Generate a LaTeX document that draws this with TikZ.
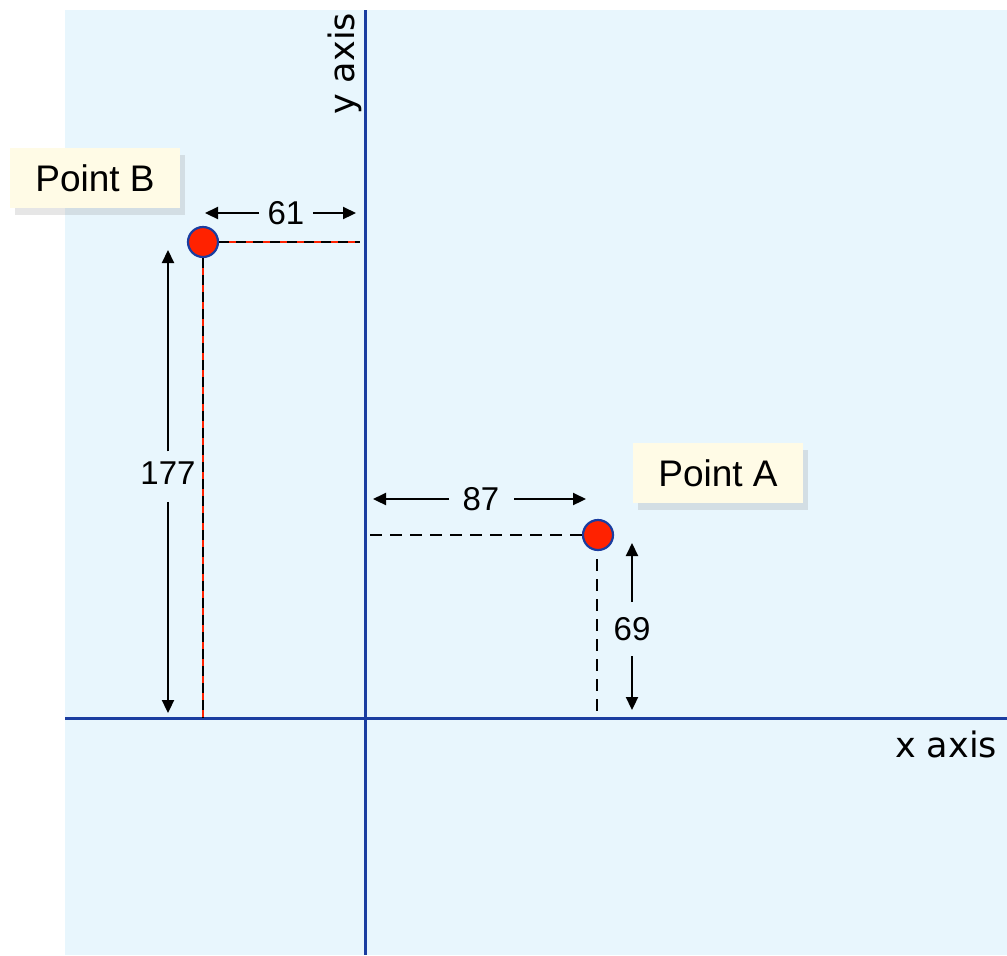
\documentclass[tikz,border=0pt]{standalone}
\usepackage{fontspec}
\setmainfont{Liberation Sans}
\newfontfamily\axisfont{DejaVu Sans}
\usepackage{tikz}
\usetikzlibrary{positioning,arrows.meta,shadows}

\definecolor{panelblue}{HTML}{E8F6FD}
\definecolor{axisblue}{HTML}{1A3DA0}
\definecolor{dotred}{HTML}{FF2200}
\definecolor{tagcream}{HTML}{FFFBE6}

\begin{document}
\begin{tikzpicture}[
  x=0.5pt,y=-0.5pt,
  >={Triangle[length=6.5pt,width=6pt]},
  axis/.style={draw=axisblue,line width=1.5pt},
  dot/.style={circle,draw=axisblue,line width=1.1pt,fill=dotred,
              minimum size=15pt,inner sep=0pt},
  tag/.style={fill=tagcream,minimum width=85pt,minimum height=30pt,
              font=\fontsize{18.5}{21}\selectfont,
              drop shadow={shadow xshift=2.5pt,shadow yshift=-3.5pt,opacity=0.2}},
  num/.style={font=\fontsize{16.5}{18}\selectfont,inner sep=4pt},
  dim/.style={->,line width=1.1pt},
  guide/.style={dashed,dash pattern=on 6pt off 4pt,line width=1.1pt},
  redguide/.style={draw=dotred,line width=0.6pt}]

% --- panel and axes ---
\useasboundingbox (0,0) rectangle (1007,955);
\fill[panelblue] (65,10) rectangle (1007,955);
\coordinate (ytop) at (365,10);
\coordinate (ybot) at (365,955);
\coordinate (xleft) at (65,718);
\coordinate (xright) at (1007,718);
\draw[axis] (ytop) -- (ybot);
\draw[axis] (xleft) -- (xright);
\node[font=\axisfont\fontsize{17.5}{19}\selectfont,rotate=90] (ylab) at (345,64) {y axis};
\node[font=\axisfont\fontsize{17.5}{19}\selectfont] (xlab) at (946,744) {x axis};

% --- point B ---
\node[dot] (ptB) at (203,242) {};
\node[tag] (tagB) at (95,178) {Point B};
\coordinate (Bxax) at (360,242);
\coordinate (Bfoot) at (203,718);
\draw[redguide] (ptB) -- (Bxax);
\draw[redguide] (ptB) -- (Bfoot);
\draw[guide,dash pattern=on 5pt off 3.5pt] (ptB) -- (Bxax);
\draw[guide,dash pattern=on 5pt off 3.5pt] (ptB) -- (Bfoot);

\node[num] (n61) at (286,213) {61};
\coordinate (l61) at (205,213);
\coordinate (r61) at (356,213);
\draw[dim] (n61) -- (l61);
\draw[dim] (n61) -- (r61);

\node[num,inner sep=2pt] (n177) at (168,473) {177};
\coordinate (t177) at (168,250);
\coordinate (b177) at (168,713);
\draw[dim] (n177.north) ++(0,-6) -- (t177);
\draw[dim] (n177.south) ++(0,13) -- (b177);

% --- point A ---
\node[dot] (ptA) at (598,535) {};
\node[tag] (tagA) at (718,473) {Point A};
\coordinate (Ayax) at (370,535);
\coordinate (Afoot) at (597,712);
\draw[guide] (ptA) -- (Ayax);
\draw[guide] (ptA.south) ++(-1,8) -- (Afoot);

\node[num] (n87) at (481,499) {87};
\coordinate (l87) at (373,499);
\coordinate (r87) at (586,499);
\draw[dim] (n87) ++(-32,0) -- (l87);
\draw[dim] (n87) ++(33,0) -- (r87);

\node[num] (n69) at (632,629) {69};
\coordinate (t69) at (632,543);
\coordinate (b69) at (632,710);
\draw[dim] (n69) ++(0,-27) -- (t69);
\draw[dim] (n69) ++(0,27) -- (b69);

\end{tikzpicture}
\end{document}
